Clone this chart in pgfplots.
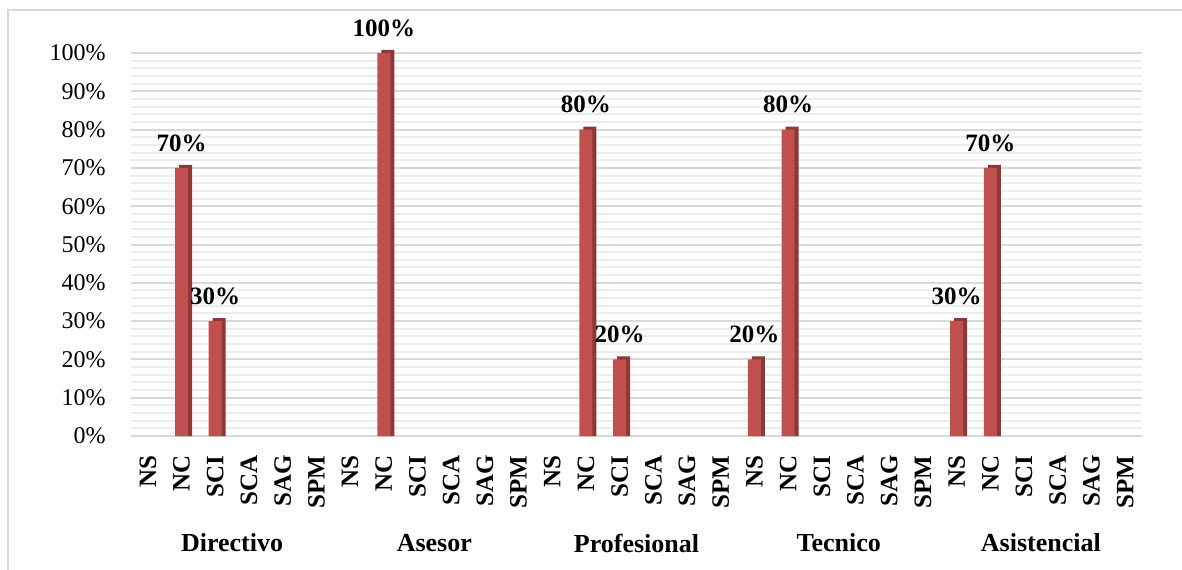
\documentclass[border=0pt]{standalone}
\usepackage{fontspec}
\setmainfont{Liberation Serif}
\usepackage{pgfplots}
\pgfplotsset{compat=1.18}
\usepackage{pgfplotstable}
\definecolor{barred}{HTML}{C0504D}
\definecolor{bardark}{HTML}{8C3836}
\definecolor{gridmaj}{HTML}{D9D9D9}
\definecolor{gridmin}{HTML}{EDEDED}

% position index, value (%)
\pgfplotstableread{
x y
1 70
2 30
7 100
13 80
14 20
18 20
19 80
24 30
25 70
}\datos

\begin{document}
\begin{tikzpicture}
\useasboundingbox (-65.5pt,-66.5pt) rectangle (525.5pt,218pt);
\draw[gridmaj, line width=1pt] (-61.5pt,-70pt) -- (-61.5pt,213pt) -- (530pt,213pt);
\begin{axis}[
    at={(0,0)}, anchor=south west,
    scale only axis,
    width=505.5pt, height=191.5pt,
    xmin=-0.5, xmax=29.5,
    ymin=0, ymax=100,
    axis line style={draw=none},
    tick style={draw=none},
    xtick={0,...,29},
    xticklabels={NS,NC,SCI,SCA,SAG,SPM,NS,NC,SCI,SCA,SAG,SPM,NS,NC,SCI,SCA,SAG,SPM,NS,NC,SCI,SCA,SAG,SPM,NS,NC,SCI,SCA,SAG,SPM},
    xticklabel style={rotate=90, anchor=east, inner sep=0pt, font=\fontsize{12.5}{14}\selectfont\bfseries},
    xticklabel shift=9.5pt,
    ytick={0,10,...,100},
    yticklabels={0\%,10\%,20\%,30\%,40\%,50\%,60\%,70\%,80\%,90\%,100\%},
    yticklabel style={inner sep=0pt, xshift=-12.5pt, font=\fontsize{12}{14}\selectfont},
    minor y tick num=4,
    ymajorgrids, yminorgrids,
    major grid style={gridmaj, line width=1pt},
    minor grid style={gridmin, line width=1pt},
    /pgf/number format/assume math mode=true,
    clip=false,
]
% side/top face
\addplot[ybar, bar width=6.5pt, bar shift=2pt, fill=bardark, draw=none,
    y filter/.expression={y+0.8}] table[x=x, y=y] {\datos};
% front face
\addplot[ybar, bar width=6.5pt, bar shift=0pt, fill=barred, draw=none,
    nodes near coords={\pgfmathprintnumber{\pgfplotspointmeta}\%},
    every node near coord/.append style={font=\fontsize{12.5}{14}\selectfont\bfseries, inner sep=0pt, yshift=8pt, text=black}]
    table[x=x, y=y] {\datos};
\node[font=\fontsize{13}{15}\selectfont\bfseries, yshift=-53.5pt] at (axis cs:2.5,0) {Directivo};
\node[font=\fontsize{13}{15}\selectfont\bfseries, yshift=-53.5pt] at (axis cs:8.5,0) {Asesor};
\node[font=\fontsize{13}{15}\selectfont\bfseries, yshift=-53.5pt] at (axis cs:14.5,0) {Profesional};
\node[font=\fontsize{13}{15}\selectfont\bfseries, yshift=-53.5pt] at (axis cs:20.5,0) {Tecnico};
\node[font=\fontsize{13}{15}\selectfont\bfseries, yshift=-53.5pt] at (axis cs:26.5,0) {Asistencial};
\end{axis}
\end{tikzpicture}
\end{document}
